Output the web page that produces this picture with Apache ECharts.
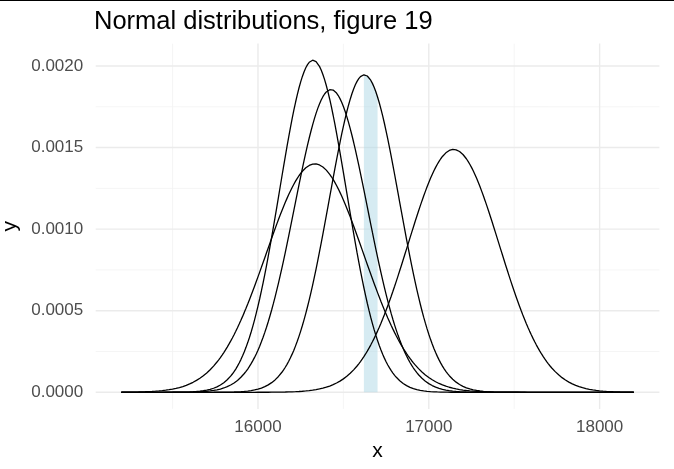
<!DOCTYPE html>
<html>
<head>
<meta charset="utf-8">
<script src="https://cdn.jsdelivr.net/npm/echarts@6/dist/echarts.min.js"></script>
<style>
html,body{margin:0;padding:0;background:#fff;}
#c{width:674px;height:469px;}
</style>
</head>
<body>
<div id="c"></div>
<script>
// ---- data ----
const titleText = 'Normal distributions, figure 19';
const xRange = [15200, 18200];              // range over which curves are drawn
const means = [16322, 16427, 16622, 16333, 17145];
const sds   = [196, 215, 205, 285, 268];
const bandRange = [16620, 16700];           // shaded area under one curve
const bandCurve = 2;                         // index of curve the band sits under
const xTicks = [16000, 17000, 18000];
const xMinor = [15500, 16500, 17500];
const yTicks = [0, 0.0005, 0.0010, 0.0015, 0.0020];
const yMinor = [0.00025, 0.00075, 0.00125, 0.00175];

function dnorm(x, m, s) {
  const z = (x - m) / s;
  return Math.exp(-0.5 * z * z) / (s * Math.sqrt(2 * Math.PI));
}
const step = 10;
function curve(i, a, b) {
  const pts = [];
  for (let x = a; x <= b + 1e-9; x += step) pts.push([x, dnorm(x, means[i], sds[i])]);
  return pts;
}
const curves = means.map((m, i) => curve(i, xRange[0], xRange[1]));
const bandPts = curve(bandCurve, bandRange[0], bandRange[1]);

const yPeak = Math.max(...means.map((m, i) => dnorm(m, m, sds[i])));
const xSpan = xRange[1] - xRange[0];
const xMin = xRange[0] - 0.05 * xSpan, xMax = xRange[1] + 0.05 * xSpan;
const yMin = -0.05 * yPeak, yMax = yPeak * 1.05;

const FONT = 'Liberation Sans, Arial, sans-serif';
const major = {color: '#ebebeb', width: 1.4, type: 'solid'};
const minor = {color: '#f2f2f2', width: 0.8, type: 'solid'};

function gridSeries(pts, style) {
  return {type: 'line', data: pts, showSymbol: false, symbol: 'none', z: 0,
    silent: true, lineStyle: style, animation: false};
}
const gridSer = []
  .concat(xMinor.map(v => gridSeries([[v, yMin], [v, yMax]], minor)))
  .concat(yMinor.map(v => gridSeries([[xMin, v], [xMax, v]], minor)))
  .concat(xTicks.map(v => gridSeries([[v, yMin], [v, yMax]], major)))
  .concat(yTicks.map(v => gridSeries([[xMin, v], [xMax, v]], major)));

const series = gridSer.concat([{
  type: 'line', data: bandPts, showSymbol: false, symbol: 'none', z: 1,
  lineStyle: {width: 0}, areaStyle: {color: 'rgba(173,216,230,0.5)', origin: 0, opacity: 1},
  silent: true
}]).concat(curves.map(c => ({
  type: 'line', data: c, showSymbol: false, symbol: 'none', z: 2, silent: true,
  lineStyle: {color: '#000', width: 1.3}, sampling: null
})));

const chart = echarts.init(document.getElementById('c'), null, {renderer: 'canvas'});
chart.setOption({
  animation: false,
  backgroundColor: '#fff',
  title: {text: titleText, left: 89, top: 4,
    textStyle: {fontFamily: FONT, fontSize: 25.5, fontWeight: 'normal', color: '#000'}},
  graphic: [{type: 'line', shape: {x1: 0, y1: 0.5, x2: 674, y2: 0.5},
    style: {stroke: '#000', lineWidth: 1}}],
  grid: {left: 95.7, right: 14.6, top: 43.6, bottom: 60.1, containLabel: false,
    outerBoundsMode: 'none'},
  xAxis: {
    type: 'value', min: xMin, max: xMax,
    name: 'x', nameLocation: 'middle', nameGap: 28,
    nameTextStyle: {fontFamily: FONT, fontSize: 21, color: '#000'},
    axisLine: {show: false}, axisTick: {show: false}, splitLine: {show: false},
    axisLabel: {customValues: xTicks, fontFamily: FONT, fontSize: 17, color: '#4d4d4d', margin: 9.5,
      formatter: v => String(v)}
  },
  yAxis: {
    type: 'value', min: yMin, max: yMax,
    name: 'y', nameLocation: 'middle', nameGap: 68, nameRotate: 90,
    nameTextStyle: {fontFamily: FONT, fontSize: 21, color: '#000'},
    axisLine: {show: false}, axisTick: {show: false}, splitLine: {show: false},
    axisLabel: {customValues: yTicks, fontFamily: FONT, fontSize: 17, color: '#4d4d4d', margin: 12.5,
      formatter: v => v.toFixed(4)}
  },
  series: series
});
</script>
</body>
</html>
